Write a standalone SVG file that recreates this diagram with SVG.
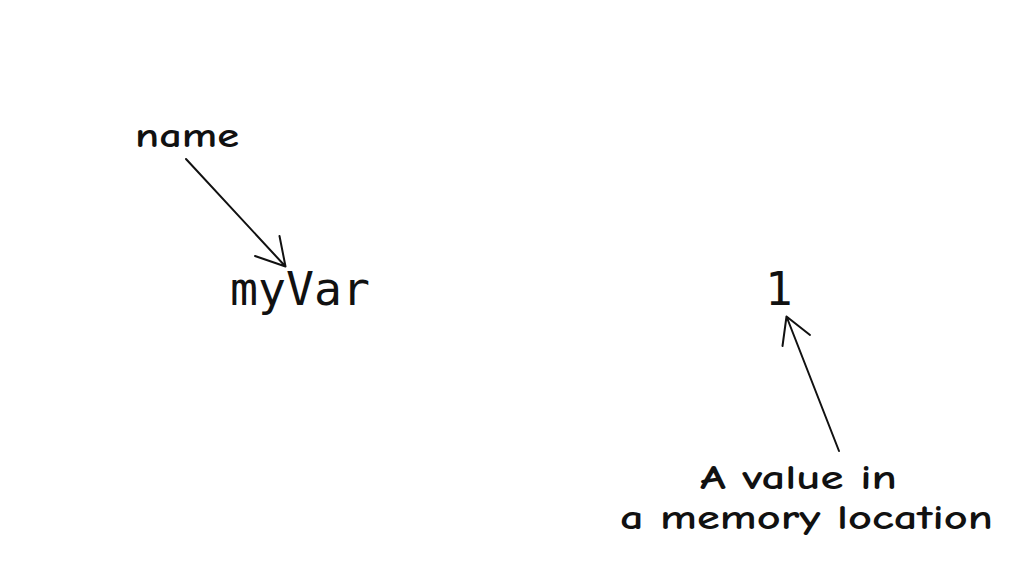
<svg xmlns="http://www.w3.org/2000/svg" width="1024" height="576" viewBox="0 0 1024 576">
<style>
.hand{font-family:"Comic Neue","Liberation Sans","DejaVu Sans",sans-serif;font-size:35px;font-weight:700;fill:#111;}
.code{font-family:"DejaVu Sans Mono","Liberation Mono",monospace;font-size:46px;fill:#111;}
.conn{stroke:#111;stroke-width:2;fill:none;stroke-linecap:round;stroke-linejoin:round;}
</style>
<rect width="1024" height="576" fill="#fff"/>
<g id="label-name"><text class="hand" x="135" y="147" textLength="104" lengthAdjust="spacingAndGlyphs">name</text></g>
<g id="node-myVar"><text class="code" x="230" y="305" textLength="140" lengthAdjust="spacingAndGlyphs">myVar</text></g>
<g id="node-value"><text class="code" x="765" y="305">1</text></g>
<g id="label-value"><text class="hand" x="700" y="489" textLength="197" lengthAdjust="spacingAndGlyphs">A value in</text><text class="hand" x="620" y="529" textLength="373" lengthAdjust="spacingAndGlyphs">a memory location</text></g>
<g id="connectors">
<path class="conn" d="M186 159 L285.5 266.5 M255 256 L285.5 266.5 L279.5 236"/>
<path class="conn" d="M839 451 L786.5 316.5 M782.5 346 L786.5 316.5 L810 335"/>
</g>
</svg>
